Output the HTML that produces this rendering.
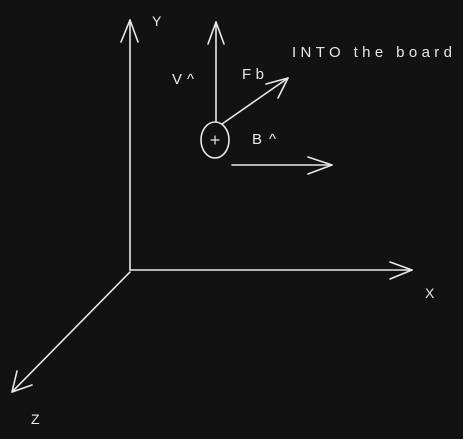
<!DOCTYPE html>
<html>
<head>
<meta charset="utf-8">
<style>
  html, body { margin: 0; padding: 0; background: #121212; }
  svg { display: block; }
  text { font-family: "Liberation Sans", "DejaVu Sans", sans-serif; fill: #e8e8e8; }
</style>
</head>
<body>
<svg width="463" height="439" viewBox="0 0 463 439">
  <rect x="0" y="0" width="463" height="439" fill="#121212"/>
  <g stroke="#e8e8e8" stroke-width="1.6" fill="none" stroke-linecap="round" stroke-linejoin="round">
    <g>
      <path d="M130 270 L130 20"/>
      <path d="M121 42 L130 20 L138 42"/>
    </g>
    <g>
      <path d="M130 270 L412 270"/>
      <path d="M390 262 L412 270 L390 279"/>
    </g>
    <g>
      <path d="M130 272 L12 392"/>
      <path d="M17 371 L12 392 L32 385"/>
    </g>
    <g>
      <path d="M216 121 L216 22"/>
      <path d="M208 44 L216 22 L224 44"/>
    </g>
    <g>
      <path d="M222 124 L288 78"/>
      <path d="M266 84 L288 78 L278 98"/>
    </g>
    <g>
      <path d="M232 165 L332 165"/>
      <path d="M308 157 L332 165 L308 174"/>
    </g>
    <ellipse cx="215" cy="140" rx="14" ry="18"/>
    <path d="M211 140 L219 140 M215 136 L215 144" stroke-width="1.2"/>
  </g>
  <text x="152" y="26" font-size="14">Y</text>
  <text x="425" y="298" font-size="14">X</text>
  <text x="31" y="424" font-size="14">Z</text>
  <text x="172" y="84" font-size="15" textLength="22">V^</text>
  <text x="242" y="79" font-size="15" textLength="22">Fb</text>
  <text x="252" y="144" font-size="15" textLength="24">B^</text>
  <text x="292" y="57" font-size="15" textLength="160" lengthAdjust="spacing">INTO the board</text>
</svg>
</body>
</html>
